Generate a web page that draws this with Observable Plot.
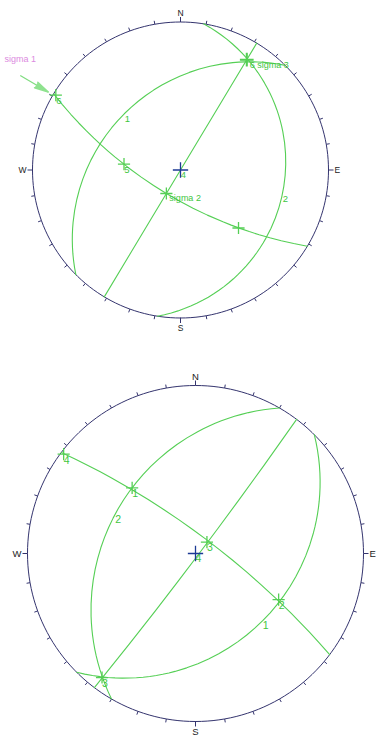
<!DOCTYPE html>
<html><head><meta charset="utf-8">
<script src="https://cdn.jsdelivr.net/npm/d3@7"></script>
<script src="https://cdn.jsdelivr.net/npm/@observablehq/plot@0.6"></script>
<style>body{margin:0;background:#fff;} svg{display:block;} #chart{width:376px;}</style>
</head><body><div id="chart"></div>
<script>
// ---------- shared ----------
const cardinalLabels = ["N", "E", "S", "W"];
const cardinalTrends = [0, 90, 180, 270];
const tickTrends = d3.range(0, 360, 10);

// ---------- top stereonet (planes as dip direction / dip) ----------
const topPlaneDipDir = [315, 99, 121, 211];
const topPlaneDip = [33.5, 19.5, 90, 69];
const topPointTrend = [301, 276, 135, 211, 31];
const topPointPlunge = [1, 48, 32, 69, 8];
const topPointLabels = ["6", "5", "", "", ""];
const topSigmaLabels = ["sigma 2", "6 sigma 3"];
const topSigmaTrend = [211, 31];
const topSigmaPlunge = [69, 8];
const topCurveLabels = ["1", "2", "4"];
const topCurveTrend = [315, 103, 0];
const topCurvePlunge = [33.5, 19.5, 90];
const topArrowLabel = "sigma 1";
const topArrowTrend = 300.5;

// ---------- bottom stereonet ----------
const botPlaneDipDir = [300, 135, 127, 37];
const botPlaneDip = [34, 31, 88, 78];
const botPointTrend = [307, 316, 45, 119, 217];
const botPointPlunge = [1, 33, 79, 31, 4.5];
const botPointLabels = ["4", "1", "3", "2", "3"];
const botCurveLabels = ["2", "1", "4"];
const botCurveTrend = [296, 135, 0];
const botCurvePlunge = [34, 31, 90];

const NAVY = "#34346e";
const GREEN = "#55cf55";
const LGREEN = "#3fc63f";
const FONT = "Liberation Sans, Arial, sans-serif";

function stereonet(o) {
  const {cx, cy, R, height, fs} = o;
  const projection = d3.geoStereographic().rotate([0, -90]).scale(R).translate([cx, cy]).clipAngle(150).precision(0.1);
  const lon = t => 180 - t;
  // latitude (negative) of a point lying px pixels outside the primitive circle
  const outside = px => 90 - 2 * Math.atan(1 + px / R) * 180 / Math.PI;
  const primitive = {type: "LineString", coordinates: d3.geoCircle().center([0, 90]).radius(90).precision(2)().coordinates[0]};
  const planes = o.planeDipDir.map((dd, i) => ({type: "LineString",
    coordinates: [[lon(dd - 90), 0], [lon(dd), o.planeDip[i]], [lon(dd + 90), 0]]}));
  const ticks = tickTrends.map(t => ({t, len: cardinalTrends.includes(t) ? 5 : 3.5}));
  const pts = o.pointTrend.map((t, i) => ({x: lon(t), y: o.pointPlunge[i], label: o.pointLabels[i]}));
  const curveLab = o.curveLabels.map((l, i) => ({x: lon(o.curveTrend[i]), y: o.curvePlunge[i], label: l}));
  const cardAnchor = [
    {textAnchor: "middle", dy: -3},
    {textAnchor: "start", dx: 0},
    {textAnchor: "middle", dy: 4},
    {textAnchor: "end", dx: 0}
  ];
  const marks = [
    Plot.geo([primitive], {stroke: NAVY, strokeWidth: 1}),
    Plot.link(ticks, {x1: d => lon(d.t), y1: 0, x2: d => lon(d.t), y2: d => outside(d.len), stroke: NAVY, strokeWidth: 1}),
    ...cardinalLabels.map((lab, i) => Plot.text([lab], {
      x: () => lon(cardinalTrends[i]), y: () => outside(6), text: d => d,
      fontSize: fs, fill: "#222", fontFamily: FONT, ...cardAnchor[i]
    })),
    Plot.geo(planes, {stroke: GREEN, strokeWidth: 1.1}),
    Plot.dot(pts, {x: "x", y: "y", symbol: "plus", r: 4, stroke: GREEN, strokeWidth: 1.3}),
    Plot.text(pts, {x: "x", y: "y", text: "label", dx: 3, dy: 6, fill: LGREEN, fontSize: fs + 1, fontFamily: FONT}),
    Plot.text(curveLab, {x: "x", y: "y", text: "label", dx: 3, dy: 5, fill: LGREEN, fontSize: fs + 1, fontFamily: FONT}),
    Plot.dot([[0, 90]], {x: d => d[0], y: d => d[1], symbol: "plus", r: 5, stroke: "#1c3a94", strokeWidth: 1.3})
  ];
  if (o.sigmaLabels) {
    const sg = o.sigmaLabels.map((l, i) => ({x: lon(o.sigmaTrend[i]), y: o.sigmaPlunge[i], label: l}));
    marks.push(Plot.dot([sg[1]], {x: "x", y: "y", symbol: "plus", r: 4.5, stroke: GREEN, strokeWidth: 2}));
    marks.push(Plot.text(sg, {x: "x", y: "y", text: "label", dx: 3, dy: 5, textAnchor: "start", fill: LGREEN, fontSize: fs + 0.5, fontFamily: FONT}));
  }
  if (o.arrowTrend != null) {
    const a = {x: lon(o.arrowTrend), y1: outside(38), y2: outside(5.5)};
    marks.push(Plot.link([a], {x1: "x", y1: "y1", x2: "x", y2: "y2", stroke: "#7fdc7f", strokeWidth: 1.2}));
    marks.push(Plot.vector([a], {x: "x", y: "y2", length: 14, r: 3.2, rotate: (o.arrowTrend + 180) % 360, shape: "spike", anchor: "end", stroke: "#8fe28f", fill: "#8fe28f"}));
    marks.push(Plot.text([a], {x: "x", y: "y1", text: () => o.arrowLabel, dy: -16, fill: "#dc8ae0", fontSize: fs + 0.5, fontFamily: FONT}));
  }
  return Plot.plot({width: 376, height, margin: 0, projection, style: {background: "#fff", overflow: "visible"}, marks});
}

const el = document.getElementById("chart");
el.appendChild(stereonet({
  cx: 180, cy: 169.5, R: 148, height: 345, fs: 8.5,
  planeDipDir: topPlaneDipDir, planeDip: topPlaneDip,
  pointTrend: topPointTrend, pointPlunge: topPointPlunge, pointLabels: topPointLabels,
  curveLabels: topCurveLabels, curveTrend: topCurveTrend, curvePlunge: topCurvePlunge,
  sigmaLabels: topSigmaLabels, sigmaTrend: topSigmaTrend, sigmaPlunge: topSigmaPlunge,
  arrowTrend: topArrowTrend, arrowLabel: topArrowLabel
}));
el.appendChild(stereonet({
  cx: 195, cy: 553 - 345, R: 168, height: 393, fs: 9.5,
  planeDipDir: botPlaneDipDir, planeDip: botPlaneDip,
  pointTrend: botPointTrend, pointPlunge: botPointPlunge, pointLabels: botPointLabels,
  curveLabels: botCurveLabels, curveTrend: botCurveTrend, curvePlunge: botCurvePlunge
}));
</script></body></html>
